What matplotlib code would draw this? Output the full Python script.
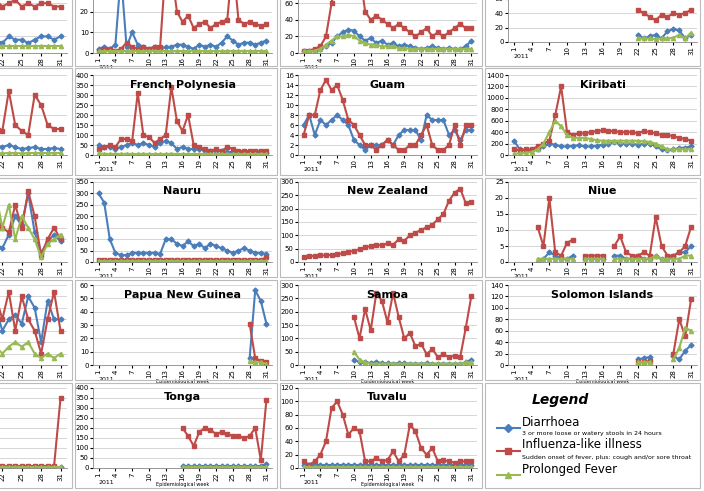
import matplotlib.pyplot as plt
import matplotlib.patches as patches
import numpy as np

n = np.nan
weeks = list(range(1, 32))
week_ticks = list(range(1, 32, 3))

BLUE, RED, GREEN = '#4a7ebb', '#be4b48', '#98b954'

# ---- data (rough reads) ----
fp_d = [50,40,40,30,40,50,60,50,60,50,40,60,70,60,30,40,30,30,30,20,20,20,20,15,15,10,10,10,10,10,10]
fp_f = [30,40,50,40,80,80,70,310,100,90,60,80,100,340,170,120,200,50,40,30,20,30,20,40,30,20,20,20,20,20,20]
fp_p = [8,6,5,6,5,6,5,5,6,5,5,5,5,6,5,5,5,5,5,5,5,5,5,5,5,5,5,5,5,5,5]

gu_d = [6,8,4,7,6,7,8,7,6,3,2,1,2,2,2,3,2,4,5,5,5,3,8,7,7,7,4,5,3,5,5]
gu_f = [4,8,8,13,15,13,14,11,7,6,4,2,2,1,2,3,2,1,1,2,2,4,6,2,1,1,2,6,2,6,6]

ki_d = [250,100,80,80,100,150,200,180,150,150,160,170,150,150,160,180,200,220,200,200,200,180,200,200,150,100,80,100,120,130,150]
ki_f = [100,80,100,100,150,200,250,700,1200,400,350,380,380,400,420,430,420,420,400,400,400,380,420,400,380,350,350,330,300,280,250]
ki_p = [20,30,40,50,100,200,400,600,500,350,300,300,300,280,260,250,250,250,250,250,250,250,240,230,200,150,100,100,100,100,100]

na_d = [300,260,100,40,30,30,40,40,40,40,40,35,100,100,80,70,90,70,80,60,80,70,60,50,40,50,60,50,40,40,35]
na_f = [10]*30 + [20]
na_p = [5]*31

nz_f = [20,22,23,25,25,27,30,32,38,42,48,55,60,65,62,70,65,85,80,100,110,120,130,140,160,180,230,260,275,220,225]

ni_d = [n,n,n,n,0,1,3,2,1,1,2,n,1,1,1,1,n,2,2,1,1,2,1,1,2,1,1,2,3,3,5]
ni_f = [n,n,n,n,11,5,20,3,2,6,7,n,2,2,2,2,n,5,8,3,2,2,3,2,14,5,2,2,3,5,11]
ni_p = [n,n,n,n,1,1,1,1,1,1,1,n,1,1,1,1,n,1,1,1,1,1,1,1,2,1,1,1,1,2,2]

pn_d = [n]*27 + [5,56,48,31]
pn_f = [n]*27 + [31,5,3,2]
pn_p = [n]*27 + [3,2,2,1]

sa_d = [n]*9 + [20,10,10,8,10,8,6,5,8,6,5,5,5,6,5,5,5,5,5,5,10,20]
sa_f = [n]*9 + [180,100,210,130,270,240,160,270,180,100,120,70,80,40,60,30,40,30,35,30,140,260]
sa_p = [n]*9 + [50,20,10,5,5,5,5,5,5,5,5,5,5,5,5,5,5,5,5,5,10,10]

so_d = [n]*21 + [10,12,14,n,n,n,15,10,25,35]
so_f = [n]*21 + [5,5,7,n,n,n,20,80,50,115]
so_p = [n]*21 + [5,5,5,n,n,n,10,30,65,60]

to_d = [n]*15 + [10,10,8,10,10,10,10,10,10,10,8,10,10,10,10,20]
to_f = [n]*15 + [200,160,110,180,200,190,170,180,170,160,160,150,160,200,40,340]
to_p = [n]*15 + [5]*16

tu_d = [5]*31
tu_f = [10,5,10,20,40,90,100,80,50,60,55,10,10,15,10,12,25,10,20,65,55,30,20,30,10,12,10,8,10,10,10]
tu_p = [2]*31

# top row (cut off)
t2_d = [2,3,2,4,38,3,10,4,3,2,3,2,3,3,4,4,3,2,4,3,4,3,5,8,6,4,5,5,4,5,6]
t2_f = [1,2,2,1,2,5,3,2,3,2,3,3,42,40,20,15,18,12,14,15,12,14,15,16,45,16,14,15,14,13,14]
t2_p = [1]*31
t3_d = [2,2,3,5,8,12,20,25,28,27,20,15,18,12,15,10,12,8,10,8,6,5,6,8,6,5,6,5,5,8,15]
t3_f = [2,3,5,8,20,60,100,95,90,110,100,50,40,45,40,35,30,35,30,25,20,25,30,20,25,20,25,30,35,30,30]
t3_p = [2,2,3,5,10,15,20,20,22,20,15,12,10,10,8,8,8,6,6,5,5,5,5,5,5,5,5,5,5,5,5]
t4_d = [n]*21 + [10,5,8,10,5,15,18,16,5,10]
t4_f = [n]*21 + [45,40,35,30,38,35,40,38,40,45]
t4_p = [n]*21 + [5,5,5,4,5,5,6,10,5,13]

# left, partially visible column
a0_d = [n]*19 + [3,4,3,5,4,4,3,4,5,5,4,5]
a0_f = [n]*19 + [15,16,14,15,16,14,15,14,15,15,14,14]
a0_p = [n]*19 + [2]*12
a1_d = [n]*19 + [60,50,40,50,40,30,35,40,30,30,35,30]
a1_f = [n]*19 + [200,150,120,320,150,120,100,300,250,150,130,130]
a1_p = [n]*19 + [10,10,8,10,10,8,10,10,10,10,10,10]
a2_d = [n]*19 + [150,80,60,120,200,160,300,130,40,90,120,90]
a2_f = [n]*19 + [120,200,150,130,250,150,310,200,30,100,150,100]
a2_p = [n]*19 + [200,300,150,250,100,200,150,100,20,80,100,120]
a3_d = [n]*19 + [20,25,15,20,22,18,30,25,10,28,20,20]
a3_f = [n]*19 + [25,30,20,32,15,30,20,15,5,20,32,15]
a3_p = [n]*19 + [5,8,5,8,10,8,10,5,3,5,3,5]
a4_d = [n]*19 + [5]*12
a4_f = [n]*19 + [10,10,8,10,8,10,10,10,10,10,10,350]
a4_p = [n]*19 + [3]*12

fig = plt.figure(figsize=(7.04, 4.91), dpi=100)
W, H = 704, 491


def px(x0, y0, x1, y1):
    return [x0 / W, 1 - y1 / H, (x1 - x0) / W, (y1 - y0) / H]


def panel(rect, ymax, step, title, d, f, p, xlab=False):
    ax = fig.add_axes(px(*rect))
    for vals, c, m, ms in ((d, BLUE, 'D', 2.5), (f, RED, 's', 2.5), (p, GREEN, '^', 3)):
        if vals is not None:
            ax.plot(weeks, vals, color=c, marker=m, markersize=ms, lw=1.5)
    ax.set_xlim(0, 32)
    ax.set_ylim(0, ymax)
    ax.set_yticks(np.arange(0, ymax + 1, step))
    ax.set_xticks(week_ticks)
    ax.set_xticklabels([str(w) for w in week_ticks], rotation=90)
    ax.tick_params(labelsize=5, length=2, pad=1)
    ax.grid(axis='y', color='#d0d0d0', lw=0.6)
    ax.set_axisbelow(True)
    for s in ('top', 'right'):
        ax.spines[s].set_visible(False)
    for s in ('left', 'bottom'):
        ax.spines[s].set_color('#888888')
        ax.spines[s].set_linewidth(0.6)
    hpx = rect[3] - rect[1]
    ax.text(1, -12 / hpx, '2011', transform=ax.get_xaxis_transform(),
            fontsize=4.5, ha='left', va='top')
    if title:
        ax.set_title(title, fontsize=8, fontweight='bold', pad=-9, y=1.0)
    if xlab:
        ax.text(16, -14 / hpx, 'Epidemiological week', transform=ax.get_xaxis_transform(),
                fontsize=3.5, ha='center', va='top')
    return ax


cells_x = [(-200, 72), (75, 277), (280, 482), (485, 700)]
cells_y = [(-100, 66), (68, 175), (178, 277), (280, 380), (383, 488)]
for cx0, cx1 in cells_x:
    for cy0, cy1 in cells_y:
        fig.patches.append(patches.Rectangle((cx0 / W, 1 - cy1 / H), (cx1 - cx0) / W, (cy1 - cy0) / H,
                                             transform=fig.transFigure, fill=False,
                                             edgecolor='#bbbbbb', lw=0.8))

# row 0
panel((-140, -30, 67, 53), 25, 5, None, a0_d, a0_f, a0_p)
panel((93, -30, 272, 53), 40, 10, None, t2_d, t2_f, t2_p)
panel((298, -30, 477, 53), 100, 20, None, t3_d, t3_f, t3_p)
panel((508, -30, 697, 42), 100, 20, None, t4_d, t4_f, t4_p)
# row 1
panel((-140, 75, 67, 155), 400, 100, None, a1_d, a1_f, a1_p)
panel((93, 75, 272, 155), 400, 50, 'French Polynesia', fp_d, fp_f, fp_p)
panel((298, 75, 477, 155), 16, 2, 'Guam', gu_d, gu_f, None)
panel((508, 75, 697, 155), 1400, 200, 'Kiribati', ki_d, ki_f, ki_p)
# row 2
panel((-140, 182, 67, 262), 350, 50, None, a2_d, a2_f, a2_p)
panel((93, 182, 272, 262), 350, 50, 'Nauru', na_d, na_f, na_p)
panel((298, 182, 477, 262), 300, 50, 'New Zealand', None, nz_f, None)
panel((508, 182, 697, 262), 25, 5, 'Niue', ni_d, ni_f, ni_p)
# row 3
panel((-140, 285, 67, 365), 35, 5, None, a3_d, a3_f, a3_p)
panel((93, 285, 272, 365), 60, 10, 'Papua New Guinea', pn_d, pn_f, pn_p, xlab=True)
panel((298, 285, 477, 365), 300, 50, 'Samoa', sa_d, sa_f, sa_p, xlab=True)
panel((508, 285, 697, 365), 140, 20, 'Solomon Islands', so_d, so_f, so_p, xlab=True)
# row 4
panel((-140, 388, 67, 468), 400, 50, None, a4_d, a4_f, a4_p)
panel((93, 388, 272, 468), 400, 50, 'Tonga', to_d, to_f, to_p, xlab=True)
panel((298, 388, 477, 468), 120, 20, 'Tuvalu', tu_d, tu_f, tu_p, xlab=True)

# legend cell
fig.text(560 / W, 1 - 400 / H, 'Legend', fontsize=10, fontweight='bold', style='italic',
         ha='center', va='center')
items = [(BLUE, 'D', 'Diarrhoea', '3 or more loose or watery stools in 24 hours', 423),
         (RED, 's', 'Influenza-like illness', 'Sudden onset of fever, plus: cough and/or sore throat', 446),
         (GREEN, '^', 'Prolonged Fever', None, 470)]
for c, m, name, sub, y in items:
    fig.lines.append(plt.Line2D([497 / W, 520 / W], [1 - (y + 5) / H] * 2, color=c, lw=1.5,
                                transform=fig.transFigure))
    fig.lines.append(plt.Line2D([508 / W], [1 - (y + 5) / H], color=c, marker=m, markersize=4,
                                transform=fig.transFigure))
    fig.text(522 / W, 1 - (y - 1) / H, name, fontsize=8.5, va='center')
    if sub:
        fig.text(522 / W, 1 - (y + 11) / H, sub, fontsize=4.5, va='center')

fig.savefig('out.png', dpi=100)
